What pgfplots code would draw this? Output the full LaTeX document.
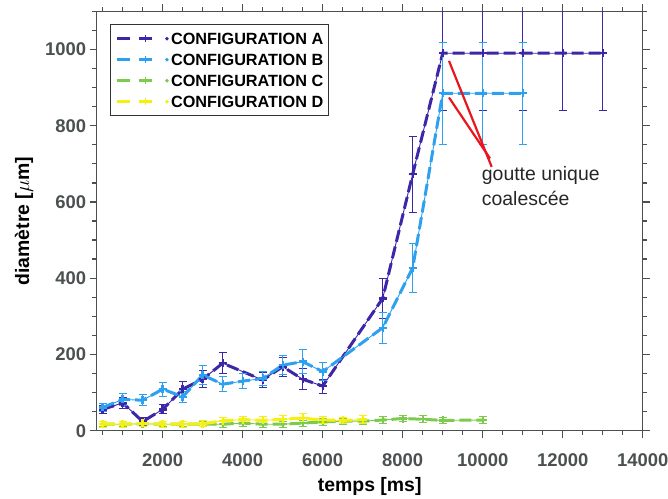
\documentclass[border=0pt]{standalone}
\usepackage{pgfplots}
\pgfplotsset{compat=1.18}
\usepackage{fontspec}
\setmainfont{Liberation Sans}
\definecolor{colA}{RGB}{62,38,168}
\definecolor{colB}{RGB}{45,160,240}
\definecolor{colC}{RGB}{124,203,76}
\definecolor{colD}{RGB}{245,240,15}
\definecolor{axgray}{RGB}{75,80,80}
\definecolor{annred}{RGB}{232,23,31}

\pgfplotsset{
  errstyle/.style={line width=0.9bp, solid, mark=+, mark size=4bp, mark options={solid, line width=2.4bp},
    error bars/y dir=both, error bars/y explicit,
    error bars/error bar style={line width=0.9bp, solid},
    error bars/error mark options={rotate=90, line width=0.9bp, mark size=4bp}},
  dashstyle/.style={line width=3bp, dash pattern=on 12bp off 5bp, no marks},
}

\newcommand{\legimg}[1]{\addlegendimage{legend image code/.code={%
 \draw[#1, line width=2.6bp] (0bp,0bp) -- (13bp,0bp);
 \draw[#1, line width=2.6bp] (22bp,0bp) -- (35bp,0bp);
 \draw[#1, line width=1.6bp] (28.5bp,-3.5bp) -- (28.5bp,3.5bp);
 \fill[#1] (50bp,0bp) circle (1bp);}}}

\pgfplotstableread{
x y e
500 56 10
1000 73 15
1500 24 10
2000 56 12
2500 109 20
3000 135 22
3500 177 28
4500 133 20
5000 168 25
5500 135 28
6000 117 18
7500 347 52
8250 673 100
9000 990 150
10000 990 150
11000 990 150
12000 990 150
13000 990 150
}\dataA

\pgfplotstableread{
x y e
500 61 10
1000 82 15
1500 80 14
2000 109 18
2500 89 14
3000 146 25
3500 122 20
4000 130 20
4500 137 18
5000 172 25
5500 181 32
6000 155 24
7500 270 40
8250 427 64
9000 885 133
10000 885 133
11000 885 133
}\dataB

\pgfplotstableread{
x y e
500 17 7
1000 17 7
1500 18 7
2000 17 7
2500 17 7
3000 17 7
3500 17 8
4000 20 8
4500 17 8
5000 17 8
5500 20 8
6000 23 8
6500 25 8
7000 25 8
7500 28 9
8000 32 9
8500 30 9
9000 27 9
10000 28 9
}\dataC

\pgfplotstableread{
x y e
500 17 8
1000 17 8
1500 19 8
2000 17 8
2500 17 8
3000 18 8
3500 26 10
4000 29 9
4500 27 10
5000 30 10
5500 33 12
6000 28 9
6500 27 8
7000 29 10
}\dataD

\begin{document}
\begin{tikzpicture}
\useasboundingbox (-96.7bp,-68.3bp) rectangle (571.3bp,430.7bp);
\begin{axis}[
  scale only axis, width=546bp, height=419.4bp,
  xmin=350, xmax=14000, ymin=0, ymax=1100,
  xtick={2000,4000,...,14000}, ytick={0,200,...,1000},
  minor xtick={500,1000,...,14000}, minor ytick={50,100,...,1100},
  tick align=outside, major tick length=7bp, minor tick length=4.5bp,
  major tick style={draw=axgray, line width=1.3bp},
  minor tick style={draw=axgray, line width=1.3bp},
  axis line style={axgray, line width=1.4bp},
  scaled ticks=false,
  /pgf/number format/assume math mode=true,
  /pgf/number format/1000 sep={},
  ticklabel style={font=\bfseries\fontsize{18.5}{18.5}\selectfont, text=axgray},
  xticklabel style={yshift=-12bp},
  xlabel={temps [ms]}, ylabel={diamètre [$\mu$m]},
  label style={font=\bfseries\fontsize{19.5}{19.5}\selectfont, text=black},
  xlabel style={at={(axis description cs:0.5,-0.1319)}, anchor=center},
  ylabel style={at={(axis description cs:-0.1332,0.5)}, anchor=center},
  legend style={at={(axis description cs:0,1)}, anchor=north west, xshift=13.3bp, yshift=-12.7bp,
    draw=black!80, line width=1.3bp, fill=white,
    font=\bfseries\fontsize{16.3}{16.3}\selectfont,
    inner xsep=5bp, inner ysep=8bp, row sep=9bp,
    nodes={inner sep=0bp, text height=12bp, text depth=0bp},
    column sep=2.5bp},
  legend cell align=left,
]
\addplot[forget plot, colA, errstyle] table[x=x, y=y, y error=e] {\dataA};
\addplot[forget plot, colA, dashstyle] table[x=x, y=y] {\dataA};
\addplot[forget plot, colB, errstyle] table[x=x, y=y, y error=e] {\dataB};
\addplot[forget plot, colB, dashstyle] table[x=x, y=y] {\dataB};
\addplot[forget plot, colC, errstyle] table[x=x, y=y, y error=e] {\dataC};
\addplot[forget plot, colC, dashstyle] table[x=x, y=y] {\dataC};
\addplot[forget plot, colD, errstyle] table[x=x, y=y, y error=e] {\dataD};
\addplot[forget plot, colD, dashstyle] table[x=x, y=y] {\dataD};

\legimg{colA}\addlegendentry{CONFIGURATION A}
\legimg{colB}\addlegendentry{CONFIGURATION B}
\legimg{colC}\addlegendentry{CONFIGURATION C}
\legimg{colD}\addlegendentry{CONFIGURATION D}

\draw[annred, line width=2.2bp] (axis cs:9157,970) -- (axis cs:10225,692);
\draw[annred, line width=2.2bp] (axis cs:9157,874) -- (axis cs:10183,714);
\node[anchor=west, align=left, font=\fontsize{19.5}{25}\selectfont, text=black!85, inner sep=0bp]
  at (axis cs:9975,642) {goutte unique\\coalescée};
\end{axis}
% axis frame ticks (outside), matching the axis scale: x -> (v-350)*0.04 bp, y -> v*0.381273 bp
\begin{scope}[axgray, line width=1.3bp]
\foreach \v in {500,1000,...,14000} {
  \draw ({(\v-350)*0.04*1bp},0bp) -- ++(0bp,-4.5bp);
  \draw ({(\v-350)*0.04*1bp},419.4bp) -- ++(0bp,4.5bp);
}
\foreach \v in {2000,4000,...,14000} {
  \draw ({(\v-350)*0.04*1bp},0bp) -- ++(0bp,-7bp);
  \draw ({(\v-350)*0.04*1bp},419.4bp) -- ++(0bp,7bp);
}
\foreach \v in {50,100,...,1100} {
  \draw (0bp,{\v*0.381273*1bp}) -- ++(-4.5bp,0bp);
  \draw (546bp,{\v*0.381273*1bp}) -- ++(4.5bp,0bp);
}
\foreach \v in {0,200,...,1000} {
  \draw (0bp,{\v*0.381273*1bp}) -- ++(-7bp,0bp);
  \draw (546bp,{\v*0.381273*1bp}) -- ++(7bp,0bp);
}
\end{scope}
\end{tikzpicture}
\end{document}
